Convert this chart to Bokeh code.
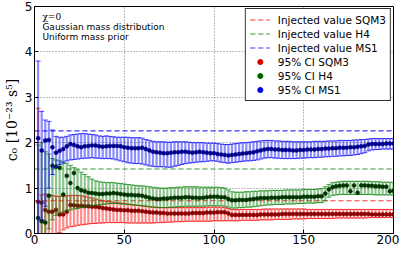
import math
from bokeh.plotting import figure
from bokeh.models import ColumnDataSource, Label, Legend, LegendItem, FixedTicker
from bokeh.embed import file_html
from bokeh.resources import INLINE

# sample index (every second point of the 200 shown)
x_index = list(range(2, 201, 2))

injected_sqm3 = 0.72
injected_h4 = 1.42
injected_ms1 = 2.26

ms1_mid = [2.10, 1.83, 2.05, 2.06, 1.90, 1.78, 1.82, 1.86, 1.92, 1.97,
           1.95, 1.92, 1.90, 1.92, 1.93, 1.94, 1.94, 1.92, 1.91, 1.92,
           1.93, 1.93, 1.93, 1.92, 1.90, 1.89, 1.88, 1.88, 1.88, 1.89,
           1.86, 1.83, 1.80, 1.79, 1.78, 1.77, 1.77, 1.78, 1.79, 1.79,
           1.80, 1.80, 1.79, 1.78, 1.79, 1.80, 1.79, 1.78, 1.77, 1.77,
           1.75, 1.74, 1.73, 1.72, 1.73, 1.74, 1.75, 1.76, 1.77, 1.78,
           1.79, 1.81, 1.83, 1.85, 1.86, 1.86, 1.85, 1.85, 1.84, 1.84,
           1.84, 1.83, 1.83, 1.84, 1.84, 1.85, 1.85, 1.85, 1.86, 1.86,
           1.87, 1.87, 1.88, 1.88, 1.89, 1.89, 1.89, 1.90, 1.90, 1.91,
           1.92, 1.93, 1.96, 1.97, 1.97, 1.97, 1.97, 1.98, 1.98, 1.98]
ms1_hi = [3.80, 2.69, 2.50, 2.47, 2.28, 2.14, 2.12, 2.12, 2.14, 2.17,
          2.18, 2.19, 2.20, 2.20, 2.19, 2.18, 2.17, 2.15, 2.14, 2.15,
          2.14, 2.13, 2.12, 2.12, 2.12, 2.12, 2.11, 2.11, 2.11, 2.10,
          2.07, 2.05, 2.03, 2.02, 2.02, 2.02, 2.01, 2.01, 2.02, 2.02,
          2.02, 2.02, 2.01, 2.00, 2.00, 2.00, 2.00, 1.99, 1.99, 1.99,
          1.98, 1.97, 1.96, 1.96, 1.97, 1.98, 1.99, 2.00, 2.00, 2.01,
          2.02, 2.03, 2.04, 2.05, 2.05, 2.05, 2.04, 2.04, 2.03, 2.03,
          2.03, 2.02, 2.02, 2.02, 2.02, 2.02, 2.02, 2.03, 2.03, 2.03,
          2.03, 2.04, 2.04, 2.04, 2.05, 2.05, 2.05, 2.05, 2.06, 2.06,
          2.07, 2.07, 2.08, 2.09, 2.09, 2.09, 2.09, 2.09, 2.09, 2.09]
ms1_lo = [0.00, 0.30, 0.60, 1.00, 1.30, 1.45, 1.52, 1.55, 1.60, 1.62,
          1.63, 1.64, 1.65, 1.66, 1.66, 1.67, 1.66, 1.66, 1.65, 1.65,
          1.65, 1.64, 1.62, 1.60, 1.58, 1.56, 1.55, 1.54, 1.54, 1.53,
          1.51, 1.49, 1.48, 1.47, 1.47, 1.47, 1.46, 1.46, 1.48, 1.50,
          1.52, 1.54, 1.55, 1.56, 1.57, 1.58, 1.58, 1.59, 1.60, 1.60,
          1.59, 1.57, 1.56, 1.55, 1.56, 1.57, 1.58, 1.59, 1.60, 1.60,
          1.61, 1.62, 1.64, 1.66, 1.67, 1.67, 1.66, 1.66, 1.65, 1.65,
          1.65, 1.65, 1.65, 1.66, 1.66, 1.67, 1.67, 1.67, 1.68, 1.68,
          1.69, 1.69, 1.70, 1.70, 1.71, 1.71, 1.72, 1.72, 1.73, 1.74,
          1.76, 1.78, 1.82, 1.84, 1.85, 1.85, 1.86, 1.86, 1.86, 1.86]

h4_mid = [0.34, 0.27, 0.24, 0.83, 1.49, 1.47, 1.45, 0.86, 1.27, 1.11,
          1.33, 1.00, 0.95, 0.93, 0.90, 0.89, 0.88, 0.87, 0.87, 0.88,
          0.88, 0.89, 0.88, 0.87, 0.86, 0.85, 0.85, 0.84, 0.84, 0.83,
          0.81, 0.79, 0.77, 0.76, 0.76, 0.77, 0.77, 0.78, 0.79, 0.79,
          0.79, 0.80, 0.80, 0.79, 0.79, 0.78, 0.79, 0.80, 0.81, 0.81,
          0.81, 0.80, 0.80, 0.76, 0.73, 0.73, 0.74, 0.74, 0.74, 0.75,
          0.76, 0.77, 0.78, 0.78, 0.78, 0.79, 0.79, 0.79, 0.80, 0.80,
          0.80, 0.80, 0.80, 0.80, 0.81, 0.81, 0.81, 0.81, 0.82, 0.82,
          0.88, 0.97, 1.02, 1.04, 1.05, 1.06, 1.06, 0.93, 1.06, 0.90,
          1.06, 1.06, 1.05, 1.05, 1.04, 1.04, 1.03, 1.03, 0.93, 0.94]
h4_hi = [1.95, 2.00, 1.80, 1.75, 1.65, 1.62, 1.60, 1.58, 1.55, 1.50,
         1.45, 1.40, 1.35, 1.30, 1.25, 1.20, 1.16, 1.14, 1.13, 1.12,
         1.12, 1.12, 1.11, 1.10, 1.09, 1.08, 1.07, 1.06, 1.05, 1.05,
         1.04, 1.03, 1.02, 1.01, 1.00, 1.00, 1.00, 1.01, 1.01, 1.02,
         1.02, 1.03, 1.03, 1.03, 1.03, 1.02, 1.02, 1.02, 1.02, 1.02,
         1.02, 1.01, 1.00, 0.96, 0.92, 0.91, 0.91, 0.91, 0.92, 0.92,
         0.93, 0.93, 0.94, 0.94, 0.94, 0.95, 0.95, 0.95, 0.95, 0.96,
         0.96, 0.96, 0.96, 0.96, 0.97, 0.97, 0.97, 0.97, 0.98, 0.99,
         1.03, 1.08, 1.12, 1.13, 1.14, 1.15, 1.15, 1.15, 1.15, 1.15,
         1.15, 1.15, 1.15, 1.14, 1.14, 1.14, 1.13, 1.13, 1.13, 1.12]
h4_lo = [0.00, 0.00, 0.00, 0.10, 0.30, 0.40, 0.45, 0.48, 0.50, 0.52,
         0.54, 0.55, 0.57, 0.58, 0.60, 0.61, 0.62, 0.63, 0.64, 0.65,
         0.66, 0.66, 0.66, 0.65, 0.65, 0.64, 0.63, 0.62, 0.62, 0.61,
         0.60, 0.59, 0.58, 0.57, 0.57, 0.57, 0.57, 0.58, 0.58, 0.59,
         0.59, 0.60, 0.60, 0.60, 0.60, 0.60, 0.60, 0.61, 0.61, 0.61,
         0.61, 0.61, 0.60, 0.58, 0.56, 0.56, 0.57, 0.57, 0.58, 0.58,
         0.59, 0.60, 0.61, 0.62, 0.63, 0.63, 0.64, 0.64, 0.64, 0.65,
         0.65, 0.65, 0.66, 0.66, 0.66, 0.67, 0.67, 0.67, 0.68, 0.68,
         0.72, 0.80, 0.84, 0.85, 0.86, 0.86, 0.86, 0.86, 0.86, 0.86,
         0.86, 0.86, 0.86, 0.86, 0.85, 0.85, 0.85, 0.85, 0.85, 0.85]

sqm3_mid = [0.70, 0.68, 0.52, 0.48, 0.48, 0.52, 0.42, 0.42, 0.48, 0.63,
            0.62, 0.61, 0.61, 0.60, 0.60, 0.59, 0.59, 0.58, 0.56, 0.55,
            0.54, 0.53, 0.52, 0.52, 0.51, 0.51, 0.50, 0.50, 0.50, 0.49,
            0.48, 0.47, 0.46, 0.46, 0.45, 0.45, 0.44, 0.44, 0.44, 0.44,
            0.44, 0.44, 0.44, 0.45, 0.45, 0.45, 0.45, 0.46, 0.46, 0.46,
            0.47, 0.47, 0.47, 0.44, 0.41, 0.41, 0.41, 0.41, 0.41, 0.41,
            0.41, 0.41, 0.42, 0.42, 0.42, 0.42, 0.42, 0.42, 0.43, 0.43,
            0.43, 0.43, 0.43, 0.43, 0.43, 0.43, 0.43, 0.43, 0.43, 0.43,
            0.43, 0.43, 0.43, 0.43, 0.43, 0.43, 0.43, 0.43, 0.43, 0.43,
            0.43, 0.43, 0.43, 0.42, 0.42, 0.42, 0.42, 0.42, 0.42, 0.42]
sqm3_hi = [2.76, 0.85, 0.87, 0.85, 0.84, 0.82, 0.82, 0.82, 0.83, 0.84,
           0.84, 0.84, 0.83, 0.82, 0.80, 0.78, 0.76, 0.74, 0.72, 0.71,
           0.70, 0.69, 0.68, 0.67, 0.66, 0.65, 0.64, 0.63, 0.62, 0.61,
           0.60, 0.59, 0.58, 0.58, 0.57, 0.57, 0.57, 0.57, 0.57, 0.57,
           0.57, 0.57, 0.57, 0.57, 0.57, 0.57, 0.57, 0.58, 0.58, 0.58,
           0.58, 0.58, 0.57, 0.55, 0.53, 0.53, 0.53, 0.53, 0.53, 0.53,
           0.53, 0.53, 0.53, 0.54, 0.54, 0.54, 0.54, 0.54, 0.54, 0.54,
           0.54, 0.54, 0.54, 0.54, 0.54, 0.53, 0.53, 0.53, 0.53, 0.53,
           0.53, 0.53, 0.53, 0.53, 0.53, 0.53, 0.53, 0.53, 0.53, 0.53,
           0.53, 0.53, 0.53, 0.53, 0.53, 0.53, 0.53, 0.53, 0.53, 0.53]
sqm3_lo = [0.00, 0.00, 0.00, 0.00, 0.00, 0.00, 0.02, 0.08, 0.12, 0.15,
           0.16, 0.18, 0.19, 0.20, 0.21, 0.22, 0.22, 0.23, 0.23, 0.24,
           0.24, 0.24, 0.24, 0.24, 0.24, 0.23, 0.23, 0.23, 0.23, 0.23,
           0.23, 0.23, 0.23, 0.24, 0.24, 0.24, 0.25, 0.25, 0.26, 0.26,
           0.26, 0.27, 0.27, 0.27, 0.27, 0.27, 0.27, 0.27, 0.27, 0.28,
           0.28, 0.28, 0.28, 0.28, 0.28, 0.28, 0.28, 0.29, 0.29, 0.29,
           0.29, 0.29, 0.30, 0.30, 0.30, 0.30, 0.31, 0.31, 0.31, 0.31,
           0.31, 0.32, 0.32, 0.32, 0.32, 0.33, 0.33, 0.33, 0.33, 0.33,
           0.33, 0.33, 0.33, 0.34, 0.34, 0.34, 0.34, 0.34, 0.34, 0.34,
           0.34, 0.34, 0.35, 0.35, 0.35, 0.35, 0.35, 0.35, 0.35, 0.35]

x_ticks = [0, 50, 100, 150, 200]
y_ticks = [0, 1, 2, 3, 4, 5]

FONT = "DejaVu Sans"

p = figure(width=399, height=246, x_range=(0, 200), y_range=(0, 5),
           output_backend="svg", toolbar_location=None,
           min_border_left=26, min_border_right=6, min_border_top=6, min_border_bottom=0)
p.background_fill_color = "white"
p.border_fill_color = "white"
p.outline_line_color = "black"
p.outline_line_width = 1

for ax, ticks in ((p.xaxis[0], x_ticks), (p.yaxis[0], y_ticks)):
    ax.ticker = FixedTicker(ticks=ticks)
    ax.major_tick_in = 4
    ax.major_tick_out = 0
    ax.minor_tick_line_color = None
    ax.axis_line_color = "black"
    ax.major_tick_line_color = "black"
    ax.major_label_text_font = FONT
    ax.major_label_text_font_size = "12px"
    ax.major_label_text_color = "black"
    ax.major_label_standoff = 2
p.xaxis.major_label_standoff = 1

p.yaxis.axis_label = "c\u2080 [10\u207b\u00b2\u00b3 s\u2075]"
p.yaxis.axis_label_text_font = "DejaVu Serif"
p.yaxis.axis_label_text_font_style = "normal"
p.yaxis.axis_label_text_font_size = "14px"
p.yaxis.axis_label_standoff = 2
p.yaxis.axis_label_text_color = "black"

p.xgrid.ticker = FixedTicker(ticks=x_ticks)
p.ygrid.ticker = FixedTicker(ticks=y_ticks)
p.grid.grid_line_color = "#444444"
p.grid.grid_line_alpha = 0.7
p.grid.grid_line_dash = "1 2"
p.grid.grid_line_width = 1

x_span = [x_ticks[0], x_ticks[-1]]

series = [
    ("SQM3", injected_sqm3, sqm3_mid, sqm3_lo, sqm3_hi, "#ff0000", "#8b0000"),
    ("H4", injected_h4, h4_mid, h4_lo, h4_hi, "#008000", "#003300"),
    ("MS1", injected_ms1, ms1_mid, ms1_lo, ms1_hi, "#0000ff", "#00008b"),
]

inj_items = []
ci_items = []
for name, inj, mid, lo, hi, col, dark in series:
    r_inj = p.line(x=x_span, y=[inj, inj], line_color=col, line_dash="5 3",
                   line_width=1.1, line_alpha=0.8)
    inj_items.append(LegendItem(label="Injected value " + name, renderers=[r_inj]))

for name, inj, mid, lo, hi, col, dark in series:
    src = ColumnDataSource(dict(x=x_index, mid=mid, lo=lo, hi=hi))
    p.segment(x0="x", y0="lo", x1="x", y1="hi", source=src, line_color=col,
              line_alpha=0.45, line_width=2.2)
    p.scatter(x="x", y="hi", source=src, marker="dash", size=5, line_color=col,
              line_alpha=0.7, line_width=1)
    p.scatter(x="x", y="lo", source=src, marker="dash", size=5, line_color=col,
              line_alpha=0.7, line_width=1)
    p.scatter(x="x", y="mid", source=src, marker="circle", size=4,
              fill_color=dark, line_color=dark, line_width=0.5)
    # legend-only marker (one undefined point, never drawn in the frame)
    nan_src = ColumnDataSource(dict(x=[float("nan")], y=[float("nan")]))
    lg_dot = p.scatter(x="x", y="y", source=nan_src, marker="circle_cross", size=4,
                       fill_color=dark, line_color=col, line_alpha=0.9, line_width=1)
    ci_items.append(LegendItem(label="95% CI " + name, renderers=[lg_dot]))

legend = Legend(items=inj_items + ci_items, location="top_right")
legend.label_text_font = FONT
legend.label_text_font_size = "10.5px"
legend.label_text_color = "black"
legend.label_height = 13
legend.glyph_height = 13
legend.glyph_width = 20
legend.label_standoff = 8
legend.spacing = 1
legend.padding = 4
legend.margin = 2
legend.border_line_color = "black"
legend.border_line_width = 1
legend.border_line_alpha = 0.8
legend.background_fill_color = "white"
legend.background_fill_alpha = 1.0
p.add_layout(legend)

notes = [("\u03c7=0", 4.76, "DejaVu Serif"),
         ("Gaussian mass distribution", 4.545, FONT),
         ("Uniform mass prior", 4.33, FONT)]
for txt, yv, fnt in notes:
    p.add_layout(Label(x=4.4, y=yv, text=txt, text_font=fnt, text_font_size="9px",
                       text_baseline="middle", text_color="black"))

open("out.html", "w").write(file_html(p, INLINE))
